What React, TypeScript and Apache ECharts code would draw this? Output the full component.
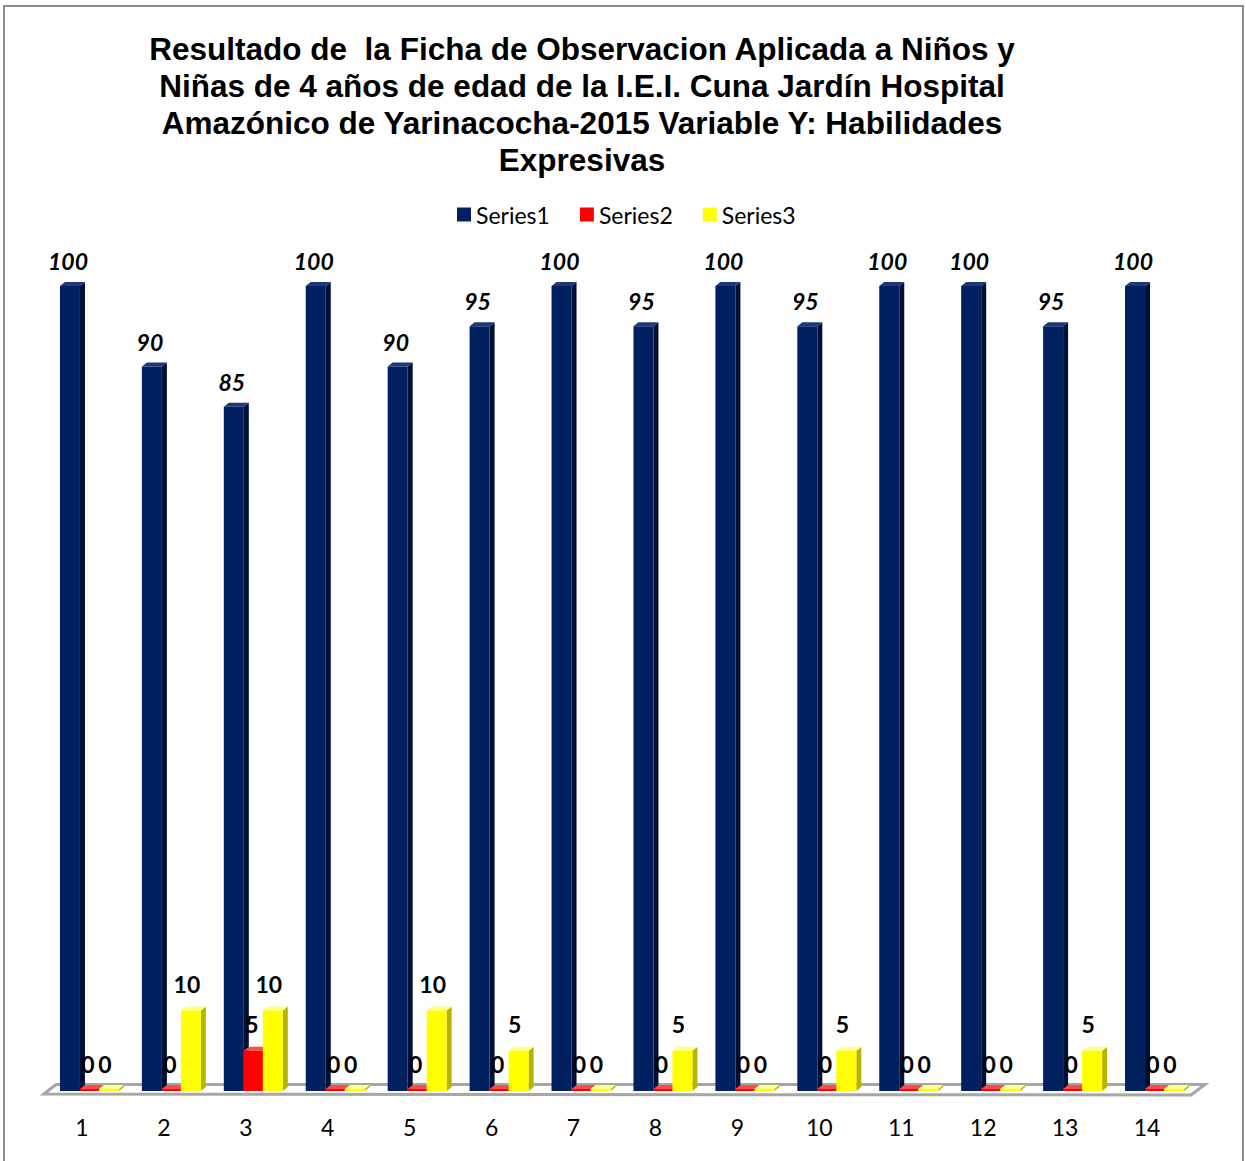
import React, { useEffect, useRef } from "react";
import * as echarts from "echarts";

const categories = ["1", "2", "3", "4", "5", "6", "7", "8", "9", "10", "11", "12", "13", "14"];
const series1 = [100, 90, 85, 100, 90, 95, 100, 95, 100, 95, 100, 100, 95, 100];
const series2 = [0, 0, 5, 0, 0, 0, 0, 0, 0, 0, 0, 0, 0, 0];
const series3 = [0, 10, 10, 0, 10, 5, 0, 5, 0, 5, 0, 0, 5, 0];
const seriesNames = ["Series1", "Series2", "Series3"];
const titleLines = [
  "Resultado de  la Ficha de Observacion Aplicada a Niños y",
  "Niñas de 4 años de edad de la I.E.I. Cuna Jardín Hospital",
  "Amazónico de Yarinacocha-2015 Variable Y: Habilidades",
  "Expresivas",
];

const BAR_W = 20;
const DEPTH_X = 5;
const DEPTH_Y = 4;

const barStyles = [
  { front: "#002060", side: "#000f36", top: "#1d3a78", offset: -22, labelDx: -2, labelDy: 25, italic: true },
  { front: "#ff0000", side: "#b80000", top: "#ff4a4a", offset: -2, labelDx: -2, labelDy: 27, italic: false },
  { front: "#ffff00", side: "#b5b500", top: "#ffff8a", offset: 17, labelDx: -4, labelDy: 27, italic: false },
];

function makeRender(s: number) {
  return (params: any, api: any) => {
    const idx = api.value(0);
    const v = api.value(1);
    const base = api.coord([idx, 0]);
    const topP = api.coord([idx, v]);
    const st = barStyles[s];
    const x0 = base[0] + st.offset;
    const yb = base[1];
    let yt = topP[1];
    if (yb - yt < 2) yt = yb - 2;
    const w = BAR_W;
    const dx = DEPTH_X;
    const dy = DEPTH_Y;
    return {
      type: "group",
      children: [
        {
          type: "polygon",
          shape: { points: [[x0 + w, yt], [x0 + w + dx, yt - dy], [x0 + w + dx, yb - dy], [x0 + w, yb]] },
          style: { fill: st.side },
        },
        {
          type: "polygon",
          shape: { points: [[x0, yt], [x0 + dx, yt - dy], [x0 + w + dx, yt - dy], [x0 + w, yt]] },
          style: { fill: st.top },
        },
        {
          type: "rect",
          shape: { x: x0, y: yt, width: w, height: yb - yt },
          style: { fill: st.front },
        },
        {
          type: "text",
          x: x0 + w / 2 + st.labelDx,
          y: topP[1] - st.labelDy,
          style: {
            text: String(v),
            align: "center",
            verticalAlign: "middle",
            fontFamily: "Lato",
            fontSize: 23,
            fontWeight: "bold",
            fontStyle: st.italic ? "italic" : "normal",
            fill: "#000",
          },
          z2: 10,
        },
      ],
    };
  };
}

export default function App() {
  const ref = useRef<HTMLDivElement>(null);
  useEffect(() => {
    if (!ref.current) return;
    const chart = echarts.init(ref.current, undefined, { renderer: "svg" });
    const allSeries = [series1, series2, series3];
    const option: any = {
      animation: false,
      backgroundColor: "#ffffff",
      grid: { left: 41, right: 58, top: 286, bottom: 70, containLabel: false },
      legend: {
        left: 452,
        top: 198,
        itemWidth: 14,
        itemHeight: 14,
        itemGap: 30,
        icon: "rect",
        textStyle: { fontFamily: "Lato", fontSize: 23, color: "#000" },
        data: seriesNames,
      },
      xAxis: {
        type: "category",
        data: categories,
        axisLine: { show: false },
        axisTick: { show: false },
        axisLabel: { fontFamily: "Lato", fontSize: 23, color: "#000", margin: 24 },
      },
      yAxis: {
        type: "value",
        min: 0,
        max: 100,
        show: false,
        splitLine: { show: false },
      },
      graphic: [
        {
          type: "rect",
          z: -10,
          shape: { x: 4, y: 6, width: 1239, height: 1200 },
          style: { fill: "none", stroke: "#8c8c8c", lineWidth: 2 },
          silent: true,
        },
        {
          type: "polygon",
          z: 0,
          shape: { points: [[44, 1094], [56, 1084.5], [1205, 1084.5], [1191, 1095]] },
          style: { fill: "#ffffff", stroke: "#a6a6a6", lineWidth: 3 },
          silent: true,
        },
        {
          type: "text",
          x: 582,
          y: 30,
          style: {
            text: titleLines.join("\n"),
            align: "center",
            verticalAlign: "top",
            fontFamily: "Liberation Sans",
            fontSize: 31.5,
            fontWeight: "bold",
            lineHeight: 37,
            fill: "#000",
          },
        },
      ],
      series: allSeries.map((vals, s) => ({
        type: "custom",
        name: seriesNames[s],
        z: 5 + s,
        itemStyle: { color: barStyles[s].front },
        renderItem: makeRender(s),
        encode: { x: 0, y: 1 },
        data: vals.map((v, i) => [i, v]),
      })),
    };
    chart.setOption(option);
    return () => chart.dispose();
  }, []);
  return (
    <div
      ref={ref}
      style={{ position: "absolute", left: 0, top: 0, width: 1246, height: 1161 }}
    />
  );
}
